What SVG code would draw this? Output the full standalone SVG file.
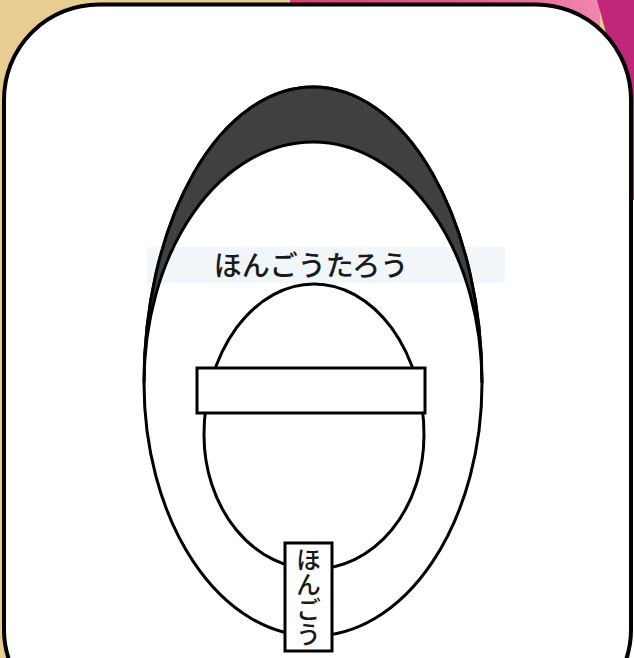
<svg xmlns="http://www.w3.org/2000/svg" width="634" height="658" viewBox="0 0 634 658">
  <defs>
    <linearGradient id="topPink" x1="290" y1="0" x2="600" y2="0" gradientUnits="userSpaceOnUse">
      <stop offset="0" stop-color="#d63f74"/>
      <stop offset="0.6" stop-color="#e4608e"/>
      <stop offset="1" stop-color="#ef86b0"/>
    </linearGradient>
    <style>
      .line { stroke: #000; stroke-width: 3; }
      .white { fill: #ffffff; }
      .dark { fill: #404040; }
      .jp { font-family: "Noto Sans CJK JP", "Noto Sans", sans-serif; fill: #1a1a1a; }
    </style>
  </defs>

  <!-- background -->
  <g id="background">
    <rect x="0" y="0" width="634" height="658" fill="#e8cd92"/>
    <polygon points="290,0 600,0 600,40 290,40" fill="url(#topPink)"/>
    <polygon points="597,0 634,0 634,200 630,200 630,120" fill="#c0267a"/>
    <rect x="630" y="200" width="4" height="458" fill="#ffffff"/>
  </g>

  <!-- panel -->
  <g id="panel">
    <rect x="4" y="4.5" width="627" height="720" rx="95" ry="95" fill="#ffffff" stroke="#000" stroke-width="4"/>
  </g>

  <!-- outer egg (white body) -->
  <g id="outer-egg">
    <path class="white line" d="M 144 383 A 169 296 0 0 1 482 383 A 169 253 0 0 1 144 383 Z"/>
  </g>

  <!-- name band -->
  <g id="name-band">
    <rect x="147" y="247" width="358" height="36" fill="#cfe2f3" fill-opacity="0.3"/>
  </g>

  <!-- dark crown of the egg -->
  <g id="egg-crown">
    <path class="dark line" d="M 144 383 A 169 296 0 0 1 482 383 A 169 241 0 0 0 144 383 Z"/>
  </g>

  <g id="name">
    <text class="jp" x="311" y="276" font-size="28" font-weight="500" text-anchor="middle">ほんごうたろう</text>
  </g>

  <!-- inner oval -->
  <g id="inner-oval">
    <path class="white line" d="M 204 435 A 110 151 0 0 1 424 435 A 110 134 0 0 1 204 435 Z"/>
  </g>

  <!-- bar across inner oval -->
  <g id="bar">
    <rect class="white line" x="197" y="368" width="228" height="45"/>
  </g>

  <!-- vertical label -->
  <g id="label">
    <rect class="white line" x="285" y="543" width="47" height="108"/>
    <text class="jp" x="308.5" y="597" font-size="25" font-weight="500" text-anchor="middle" style="writing-mode: vertical-rl;">ほんごう</text>
  </g>

  <g id="connectors"/>
</svg>
